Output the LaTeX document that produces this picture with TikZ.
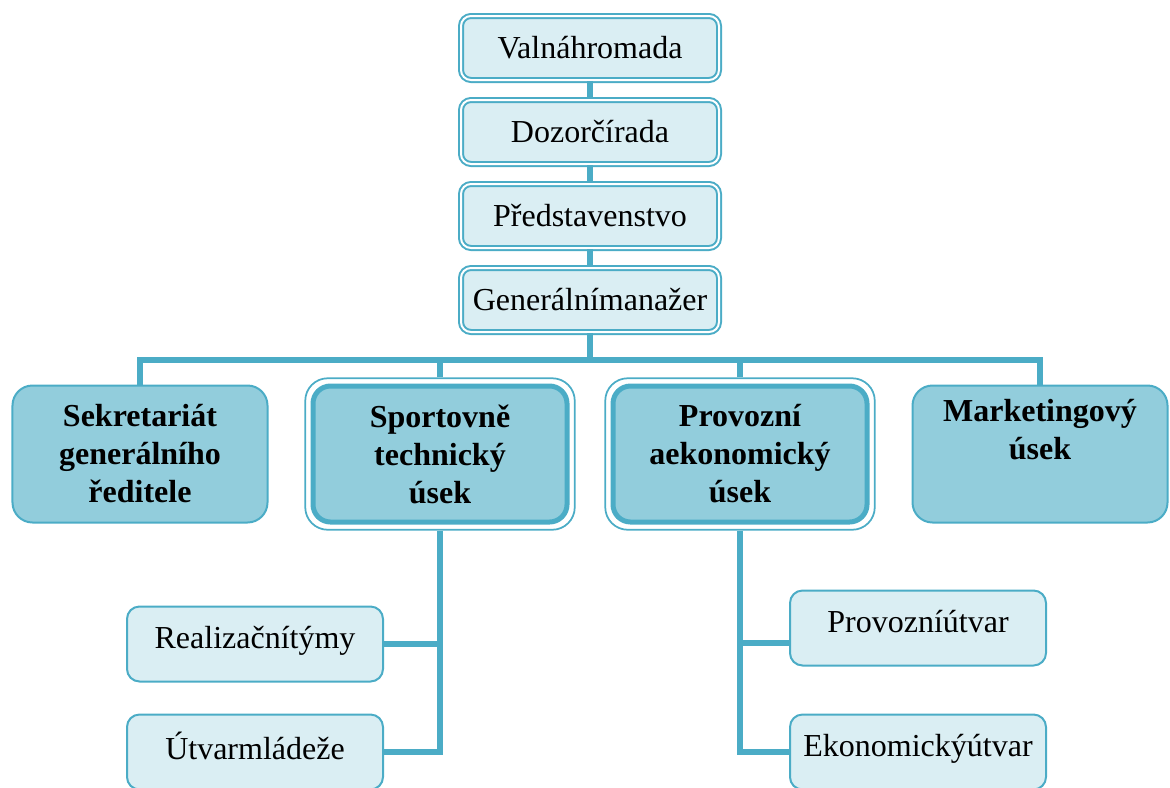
\documentclass[tikz,border=0pt]{standalone}
\usepackage{fontspec}
\setmainfont{Liberation Serif}
\usetikzlibrary{fit}

\definecolor{aqua}{HTML}{4BACC6}
\definecolor{aqualight}{HTML}{DAEEF3}
\definecolor{aquamid}{HTML}{92CDDC}
\newcommand{\orgfont}{\fontsize{12.8}{15.2}\selectfont}

\begin{document}
\begin{tikzpicture}[x=0.4pt, y=-0.4pt,
    topbox/.style={draw=aqua, fill=aqualight, line width=0.8pt, double=white, double distance=0.8pt,
        rounded corners=4pt, minimum width=103.2pt, minimum height=25.6pt, inner sep=0pt, font=\orgfont},
    unitbox/.style={draw=aqua, fill=aquamid, line width=0.8pt, rounded corners=8pt,
        minimum width=102pt, minimum height=54.8pt, inner sep=0pt, align=center, font=\orgfont\bfseries},
    mainbox/.style={draw=aqua, fill=aquamid, line width=2pt, rounded corners=7pt,
        minimum width=101.6pt, minimum height=54.4pt, inner sep=0pt, align=center, font=\orgfont\bfseries},
    outerbox/.style={draw=aqua, line width=0.7pt, rounded corners=9pt, inner sep=2.1pt},
    leafbox/.style={draw=aqua, fill=aqualight, line width=0.8pt, rounded corners=5pt,
        minimum width=102.4pt, minimum height=30pt, inner sep=0pt, text depth=5pt, font=\orgfont},
    link/.style={draw=aqua, line width=2.5pt}]
    \useasboundingbox (0,0) rectangle (1170,787);

    \node[topbox] (valna) at (590,48) {Valnáhromada};
    \node[topbox] (dozor) at (590,132) {Dozorčírada};
    \node[topbox] (pred) at (590,216) {Představenstvo};
    \node[topbox] (gen) at (590,300) {Generálnímanažer};

    \node[unitbox] (sekr) at (140,454) {Sekretariát\\generálního\\ředitele};
    \node[mainbox] (sport) at (440,454) {Sportovně\\technický\\úsek};
    \node[outerbox, fit=(sport)] (sportout) {};
    \node[mainbox] (prov) at (740,454) {Provozní\\aekonomický\\úsek};
    \node[outerbox, fit=(prov)] (provout) {};
    \node[unitbox] (mark) at (1040,454) {Marketingový\\úsek\\\strut};

    \node[leafbox] (real) at (255,644) {Realizačnítýmy};
    \node[leafbox] (mlad) at (255,752) {Útvarmládeže};
    \node[leafbox] (provut) at (918,628) {Provozníútvar};
    \node[leafbox] (ekon) at (918,752) {Ekonomickýútvar};

    \coordinate (bus) at (590,360);
    \draw[link] (valna) -- (dozor);
    \draw[link] (dozor) -- (pred);
    \draw[link] (pred) -- (gen);
    \draw[link] (gen) -- (bus);
    \draw[link] (sekr.north) |- (bus) -| (mark.north);
    \draw[link] (sportout.north) -- (sportout.north |- bus);
    \draw[link] (provout.north) -- (provout.north |- bus);

    \draw[link] (sportout.south) |- (mlad.east);
    \draw[link] (real.east) -- (real.east -| sportout.south);
    \draw[link] (provout.south) |- (ekon.west);
    \draw[link] ([yshift=-6pt]provut.west) -- ([yshift=-6pt]provut.west -| provout.south);
\end{tikzpicture}
\end{document}
